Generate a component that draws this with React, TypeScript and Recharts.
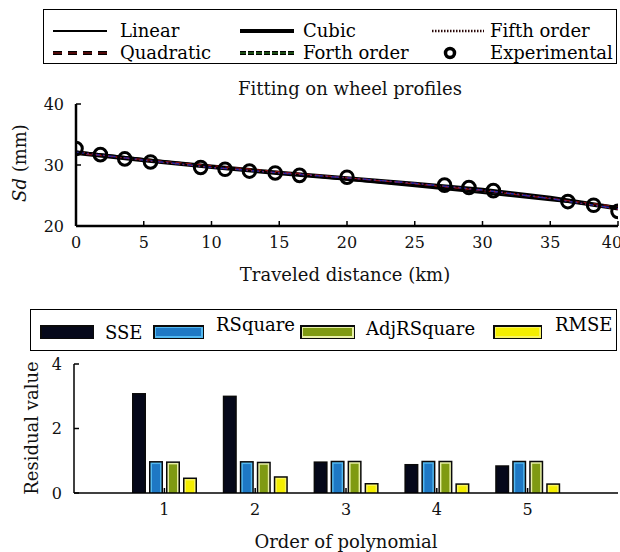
import React from 'react';
import { ComposedChart, Line, Scatter, XAxis, YAxis, BarChart, Bar } from 'recharts';

const FONT = 'DejaVu Serif';

// fitted curves, every 5 km
const fitDistance = [0, 5, 10, 15, 20, 25, 30, 35, 40];
const linearFit = [32.2, 31.0, 29.8, 28.7, 27.6, 26.5, 25.4, 24.2, 23.1];
const quadraticFit = [31.9, 30.9, 29.9, 28.9, 27.9, 26.9, 25.8, 24.5, 23.2];
const cubicFit = [32.0, 30.8, 29.7, 28.7, 27.8, 26.9, 25.9, 24.6, 22.9];
const forthFit = [32.1, 30.8, 29.6, 28.7, 27.9, 27.0, 25.9, 24.5, 22.8];
const fifthFit = [32.2, 30.7, 29.6, 28.7, 27.9, 27.0, 25.9, 24.6, 22.7];

// measured points
const expDistance = [0, 1.8, 3.6, 5.5, 9.2, 11.0, 12.8, 14.7, 16.5, 20.0, 27.2, 29.0, 30.8, 36.3, 38.2, 40.0];
const expSd = [32.7, 31.7, 31.0, 30.5, 29.6, 29.3, 29.0, 28.7, 28.3, 28.0, 26.7, 26.3, 25.8, 24.0, 23.4, 22.4];

const distanceTicks = [0, 5, 10, 15, 20, 25, 30, 35, 40];
const sdTicks = [20, 30, 40];

// residuals per polynomial order
const orders = ['1', '2', '3', '4', '5'];
const sse = [3.1, 3.02, 0.98, 0.9, 0.86];
const rSquare = [0.99, 0.99, 1.0, 1.0, 1.0];
const adjRSquare = [0.98, 0.97, 1.0, 1.0, 1.0];
const rmse = [0.48, 0.52, 0.31, 0.3, 0.3];
const residualTicks = [0, 2, 4];

const pts = (xs: number[], ys: number[]) => xs.map((x, i) => ({ x, y: ys[i] }));

const barRows = orders.map((order, i) => ({
  order,
  sse: sse[i],
  rSquare: rSquare[i],
  adjRSquare: adjRSquare[i],
  rmse: rmse[i],
}));

const tickFont = { fontFamily: FONT, fontSize: 16, fill: '#111' };
const blank = () => '';

const ExpMarker = (p: any) => (
  <circle cx={p.cx} cy={p.cy} r={6.3} fill="none" stroke="#000" strokeWidth={3} />
);

const barShape = (fill: string, inner: string) => (p: any) => {
  const { x, y, width, height } = p;
  if (!height || height <= 0) return <g />;
  return (
    <g>
      <rect x={x} y={y} width={width} height={height} fill="#0a0a0a" />
      <rect x={x + 1.5} y={y + 1.5} width={width - 3} height={height - 1.5} fill={inner} />
      <rect x={x + 3} y={y + 3} width={width - 6} height={Math.max(height - 3, 0)} fill={fill} />
    </g>
  );
};

const TopLegend = () => {
  const row = (top: number) => ({ position: 'absolute' as const, top, fontFamily: FONT, fontSize: 18, lineHeight: '20px' });
  return (
    <div style={{ position: 'absolute', left: 43, top: 9, width: 574, height: 55, border: '1.5px solid #000', boxSizing: 'border-box', background: '#fff' }}>
      <svg width={574} height={55} style={{ position: 'absolute', left: -1.5, top: -1.5 }}>
        {/* col 1 */}
        <line x1={10} x2={64} y1={22} y2={22} stroke="#000" strokeWidth={2} />
        <line x1={10} x2={64} y1={44} y2={44} stroke="#000" strokeWidth={4} strokeDasharray="9 6" />
        <line x1={10} x2={64} y1={44} y2={44} stroke="#a01010" strokeWidth={1.2} strokeDasharray="9 6" />
        {/* col 2 */}
        <line x1={197} x2={251} y1={22} y2={22} stroke="#000" strokeWidth={4} />
        <line x1={197} x2={251} y1={44} y2={44} stroke="#000" strokeWidth={4} strokeDasharray="6 2" />
        <line x1={197} x2={251} y1={44} y2={44} stroke="#3a9a2a" strokeWidth={1.2} strokeDasharray="6 2" />
        {/* col 3 */}
        <line x1={389} x2={441} y1={22} y2={22} stroke="#2a0808" strokeWidth={2.5} strokeDasharray="1.5 1.5" />
        <circle cx={407} cy={44} r={4.5} fill="#fff" stroke="#000" strokeWidth={3.5} />
      </svg>
      <span style={{ ...row(11), left: 76 }}>Linear</span>
      <span style={{ ...row(33), left: 76 }}>Quadratic</span>
      <span style={{ ...row(11), left: 259 }}>Cubic</span>
      <span style={{ ...row(33), left: 259 }}>Forth order</span>
      <span style={{ ...row(11), left: 446 }}>Fifth order</span>
      <span style={{ ...row(33), left: 446 }}>Experimental</span>
    </div>
  );
};

const BottomLegend = () => {
  const txt = (left: number, top: number) => ({ position: 'absolute' as const, left, top, fontFamily: FONT, fontSize: 18, lineHeight: '20px' });
  const sw = (left: number, width: number, fill: string, inner: string) => (
    <div style={{ position: 'absolute', left, top: 15, width, height: 14, background: '#0a0a0a', padding: 1.5, boxSizing: 'border-box' }}>
      <div style={{ width: '100%', height: '100%', background: inner, padding: 1.5, boxSizing: 'border-box' }}>
        <div style={{ width: '100%', height: '100%', background: fill }} />
      </div>
    </div>
  );
  return (
    <div style={{ position: 'absolute', left: 30, top: 309, width: 587, height: 42, border: '1.5px solid #000', boxSizing: 'border-box', background: '#fff' }}>
      {sw(9, 54, '#05081a', '#05081a')}
      <span style={txt(74, 13)}>SSE</span>
      {sw(122, 51, '#1e78c4', '#52b8f0')}
      <span style={txt(185, 5)}>RSquare</span>
      {sw(269, 55, '#7f9a12', '#e8f0a8')}
      <span style={txt(335, 9)}>AdjRSquare</span>
      {sw(462, 49, '#f4ee00', '#f8f460')}
      <span style={txt(524, 5)}>RMSE</span>
    </div>
  );
};

export default function App() {
  return (
    <div style={{ position: 'absolute', left: 0, top: 0, width: 620, height: 552, background: '#fff', overflow: 'hidden' }}>
      <div style={{ position: 'absolute', left: 0, top: 0 }}>
        <ComposedChart width={620} height={296} margin={{ top: 104, right: 2, bottom: 40, left: 36 }}>
          <XAxis
            type="number"
            dataKey="x"
            domain={[0, 40]}
            ticks={distanceTicks}
            allowDataOverflow
            height={30}
            tickSize={-5}
            tickMargin={16}
            tick={tickFont}
            axisLine={{ stroke: '#000', strokeWidth: 2.5 }}
            tickLine={{ stroke: '#000', strokeWidth: 1.5 }}
            label={{
              content: () => (
                <text x={345} y={274} textAnchor="middle" dominantBaseline="central" fontFamily={FONT} fontSize={18} fill="#111">
                  Traveled distance (km)
                </text>
              ),
            }}
          />
          <XAxis
            xAxisId="top"
            orientation="top"
            type="number"
            dataKey="x"
            domain={[0, 40]}
            ticks={distanceTicks}
            allowDataOverflow
            height={0}
            tickSize={-5}
            tickFormatter={blank}
            axisLine={{ stroke: '#000', strokeWidth: 2.5 }}
            tickLine={{ stroke: '#000', strokeWidth: 1.5 }}
          />
          <YAxis
            type="number"
            domain={[20, 40]}
            ticks={sdTicks}
            allowDataOverflow
            width={40}
            tickSize={-5}
            tickMargin={17}
            tick={tickFont}
            axisLine={{ stroke: '#000', strokeWidth: 2.5 }}
            tickLine={{ stroke: '#000', strokeWidth: 1.5 }}
            label={{
              content: () => (
                <text transform="translate(19,163) rotate(-90)" textAnchor="middle" dominantBaseline="central" fontFamily={FONT} fontSize={18} fill="#111">
                  <tspan fontStyle="italic">Sd</tspan> (mm)
                </text>
              ),
            }}
          />
          <YAxis
            yAxisId="right"
            orientation="right"
            type="number"
            domain={[20, 40]}
            ticks={sdTicks}
            width={0}
            tickSize={-5}
            tickFormatter={blank}
            axisLine={{ stroke: '#000', strokeWidth: 2.5 }}
            tickLine={{ stroke: '#000', strokeWidth: 1.5 }}
          />
          <Line data={pts(fitDistance, cubicFit)} dataKey="y" stroke="#000" strokeWidth={4.5} dot={false} isAnimationActive={false} />
          <Line data={pts(fitDistance, linearFit)} dataKey="y" stroke="#000" strokeWidth={2} dot={false} isAnimationActive={false} />
          <Line data={pts(fitDistance, quadraticFit)} dataKey="y" stroke="#8a1010" strokeWidth={1.2} strokeDasharray="6 4" dot={false} isAnimationActive={false} />
          <Line data={pts(fitDistance, forthFit)} dataKey="y" stroke="#2a2aa8" strokeWidth={1.5} strokeDasharray="8 3 2 3" dot={false} isAnimationActive={false} />
          <Line data={pts(fitDistance, fifthFit)} dataKey="y" stroke="#c01818" strokeWidth={1} strokeDasharray="1 3" dot={false} isAnimationActive={false} />
          <Scatter data={pts(expDistance, expSd)} dataKey="y" shape={ExpMarker} isAnimationActive={false} />
        </ComposedChart>
      </div>

      <div style={{ position: 'absolute', left: 0, width: 700, top: 78, textAlign: 'center', fontFamily: FONT, fontSize: 18, lineHeight: '22px', color: '#111' }}>
        Fitting on wheel profiles
      </div>

      <TopLegend />

      <div style={{ position: 'absolute', left: 0, top: 296 }}>
        <BarChart
          width={620}
          height={256}
          data={barRows}
          margin={{ top: 68, right: 2, bottom: 29, left: 34 }}
          barSize={14}
          barGap={3}
        >
          <XAxis
            dataKey="order"
            padding={{ left: 45, right: 45 }}
            height={30}
            tickSize={-5}
            tickMargin={16}
            tick={tickFont}
            axisLine={{ stroke: '#000', strokeWidth: 1.5 }}
            tickLine={{ stroke: '#000', strokeWidth: 1.5 }}
            label={{
              content: () => (
                <text x={346} y={245} textAnchor="middle" dominantBaseline="central" fontFamily={FONT} fontSize={18} fill="#111">
                  Order of polynomial
                </text>
              ),
            }}
          />
          <XAxis
            xAxisId="top"
            orientation="top"
            dataKey="order"
            padding={{ left: 45, right: 45 }}
            height={0}
            tickSize={-5}
            tickFormatter={blank}
            axisLine={{ stroke: '#000', strokeWidth: 1.5 }}
            tickLine={{ stroke: '#000', strokeWidth: 1.5 }}
          />
          <YAxis
            type="number"
            domain={[0, 4]}
            ticks={residualTicks}
            width={40}
            tickSize={-5}
            tickMargin={17}
            tick={tickFont}
            axisLine={{ stroke: '#000', strokeWidth: 1.5 }}
            tickLine={{ stroke: '#000', strokeWidth: 1.5 }}
            label={{
              content: () => (
                <text transform="translate(31,132) rotate(-90)" textAnchor="middle" dominantBaseline="central" fontFamily={FONT} fontSize={18} fill="#111">
                  Residual value
                </text>
              ),
            }}
          />
          <YAxis
            yAxisId="right"
            orientation="right"
            type="number"
            domain={[0, 4]}
            ticks={residualTicks}
            width={0}
            tickSize={-5}
            tickFormatter={blank}
            axisLine={{ stroke: '#000', strokeWidth: 1.5 }}
            tickLine={{ stroke: '#000', strokeWidth: 1.5 }}
          />
          <Bar dataKey="sse" shape={barShape('#05081a', '#05081a')} isAnimationActive={false} />
          <Bar dataKey="rSquare" shape={barShape('#1e78c4', '#52b8f0')} isAnimationActive={false} />
          <Bar dataKey="adjRSquare" shape={barShape('#7f9a12', '#e8f0a8')} isAnimationActive={false} />
          <Bar dataKey="rmse" shape={barShape('#f4ee00', '#f8f460')} isAnimationActive={false} />
        </BarChart>
      </div>

      <BottomLegend />
    </div>
  );
}
